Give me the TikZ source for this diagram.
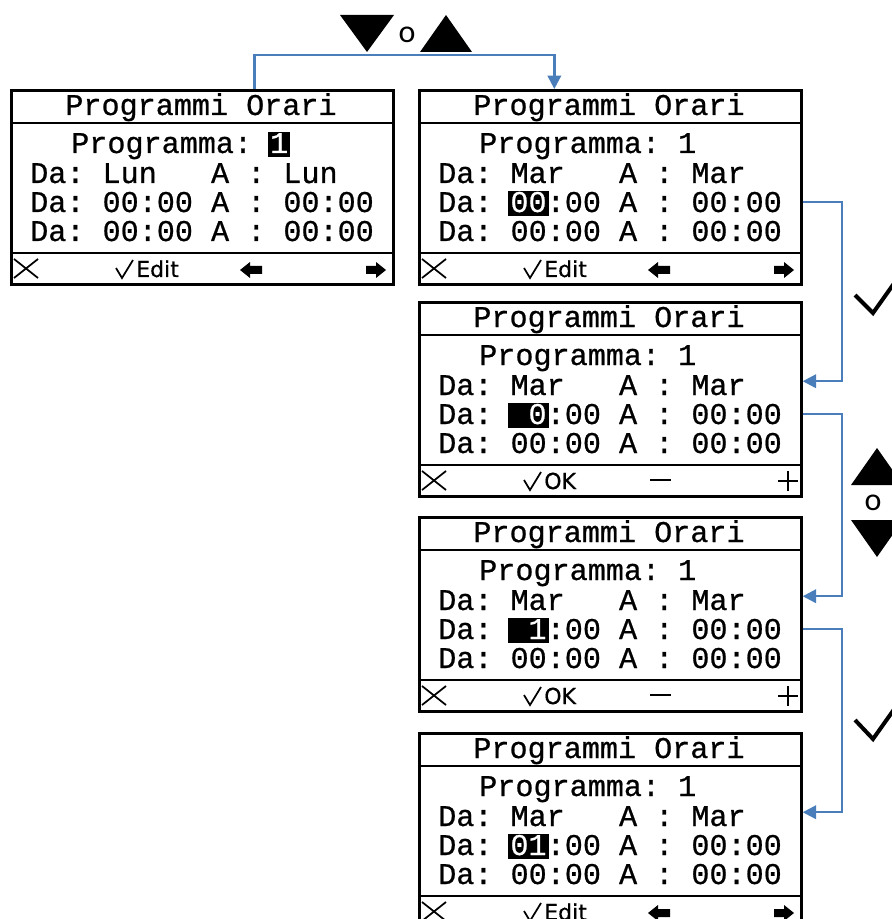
\documentclass[tikz,border=0pt]{standalone}
\usepackage{fontspec}
\usepackage{tikz}
\usetikzlibrary{arrows.meta, calc}
\newfontfamily\lcdfont[FakeBold=0.7]{Liberation Mono}
\newfontfamily\barfont[FakeBold=0.5]{DejaVu Sans}
\newfontfamily\keyfont{Carlito}
\definecolor{flowblue}{RGB}{74,126,187}
\tikzset{
  screen/.style={rectangle, draw=black, line width=2pt, anchor=north west,
    minimum width=286.5pt, minimum height=145.5pt, inner sep=0pt},
  lcdline/.style={line width=2pt, color=black},
  lcdtxt/.style={font=\lcdfont\fontsize{22.6}{24}\selectfont,
    inner sep=0pt, anchor=base west},
  lcdinv/.style={lcdtxt, fill=black, text=white, inner xsep=1.5pt,
    inner ysep=0pt, text height=15.5pt, text depth=3pt, anchor=base},
  bartxt/.style={font=\barfont\fontsize{16.5}{18}\selectfont,
    inner sep=0pt, anchor=base west},
  icon/.style={line width=1.3pt, color=black},
  tick/.style={line width=3pt, color=black},
  keytxt/.style={font=\keyfont\fontsize{24}{26}\selectfont, inner sep=0pt},
  flow/.style={-{Triangle[length=10pt,width=10pt]}, line width=1.8pt, color=flowblue}
}
% one display: name, left, top, day
\newcommand{\lcdscreen}[4]{%
  \node[screen] (#1) at (#2,#3) {};
  \draw[lcdline] (#2,#3+34) -- (#2+382,#3+34);
  \draw[lcdline] (#2,#3+164) -- (#2+382,#3+164);
  \node[lcdtxt, anchor=base] (#1-t) at (#2+191,#3+26) {Programmi~Orari};
  \node[lcdtxt] (#1-p) at (#2+61,#3+64) {Programma:~1};
  \node[lcdtxt] (#1-r1) at (#2+20,#3+94) {Da:~#4~~~A~:~#4};
  \node[lcdtxt] (#1-r2) at (#2+20,#3+123) {Da:~00:00~A~:~00:00};
  \node[lcdtxt] (#1-r3) at (#2+20,#3+152) {Da:~00:00~A~:~00:00};
}
% soft key bar: name, left, top, label
\newcommand{\lcdbar}[4]{%
  \draw[icon] (#2+4,#3+170) -- (#2+28,#3+189) (#2+4,#3+189) -- (#2+28,#3+170);
  \draw[icon] (#2+106,#3+179) -- (#2+112,#3+189) -- (#2+123,#3+171);
  \node[bartxt] (#1-k) at (#2+126,#3+188) {#4};
}
\newcommand{\arrowkeys}[2]{%
  \fill (#1+230,#2+181) -- (#1+240,#2+173) -- (#1+240,#2+177) -- (#1+252,#2+177)
    -- (#1+252,#2+185) -- (#1+240,#2+185) -- (#1+240,#2+189) -- cycle;
  \fill (#1+376,#2+181) -- (#1+366,#2+173) -- (#1+366,#2+177) -- (#1+356,#2+177)
    -- (#1+356,#2+185) -- (#1+366,#2+185) -- (#1+366,#2+189) -- cycle;
}
\newcommand{\pmkeys}[2]{%
  \draw[icon, line width=1.6pt] (#1+232,#2+179) -- (#1+253,#2+179);
  \draw[icon, line width=1.6pt] (#1+360,#2+180) -- (#1+380,#2+180)
    (#1+370,#2+170) -- (#1+370,#2+190);
}

\begin{document}
\begin{tikzpicture}[x=0.75pt, y=-0.75pt]
  \useasboundingbox (0,0) rectangle (891,919);
  % displays
  \lcdscreen{s1}{10}{89}{Lun}
  \lcdscreen{s2}{418}{89}{Mar}
  \lcdscreen{s3}{418}{301}{Mar}
  \lcdscreen{s4}{418}{516}{Mar}
  \lcdscreen{s5}{418}{732}{Mar}
  % cursor fields
  \node[lcdinv] (s1-h) at (10+269.2,89+64) {1};
  \node[lcdinv] (s2-h) at (418+110.5,89+123) {00};
  \node[lcdinv] (s3-h) at (418+110.5,301+123) {~0};
  \node[lcdinv] (s4-h) at (418+110.5,516+123) {~1};
  \node[lcdinv] (s5-h) at (418+110.5,732+123) {01};
  % soft keys
  \lcdbar{s1}{10}{89}{Edit} \arrowkeys{10}{89}
  \lcdbar{s2}{418}{89}{Edit} \arrowkeys{418}{89}
  \lcdbar{s3}{418}{301}{OK} \pmkeys{418}{301}
  \lcdbar{s4}{418}{516}{OK} \pmkeys{418}{516}
  \lcdbar{s5}{418}{732}{Edit} \arrowkeys{418}{732}
  % key hint on top
  \fill (340,15) -- (394,15) -- (367,52) -- cycle;
  \node[keytxt] (or1) at (407,35) {o};
  \fill (420,52) -- (472,52) -- (446,15) -- cycle;
  % key hints on the right
  \draw[tick] (855,295) -- (873,313) -- (900,275);
  \fill (851,485) -- (903,485) -- (877,448) -- cycle;
  \node[keytxt] (or2) at (873,503) {o};
  \fill (851,520) -- (903,520) -- (877,557) -- cycle;
  \draw[tick] (855,720) -- (873,739) -- (900,701);
  % flow
  \coordinate (rail) at (842,0);
  \draw[flow] ($(s1.north)+(52,0)$) |- ($(s2.north)+(-56,-34)$) -- ($(s2.north)+(-56,0)$);
  \draw[flow] (s2.east |- s2-r2) -- (rail |- s2-r2) |- ($(s3.east |- s3-r1)+(0,-4)$);
  \draw[flow] (s3.east |- s3-r2) -- (rail |- s3-r2) |- ($(s4.east |- s4-r1)+(0,-4)$);
  \draw[flow] (s4.east |- s4-r2) -- (rail |- s4-r2) |- ($(s5.east |- s5-r1)+(0,-4)$);
\end{tikzpicture}
\end{document}
